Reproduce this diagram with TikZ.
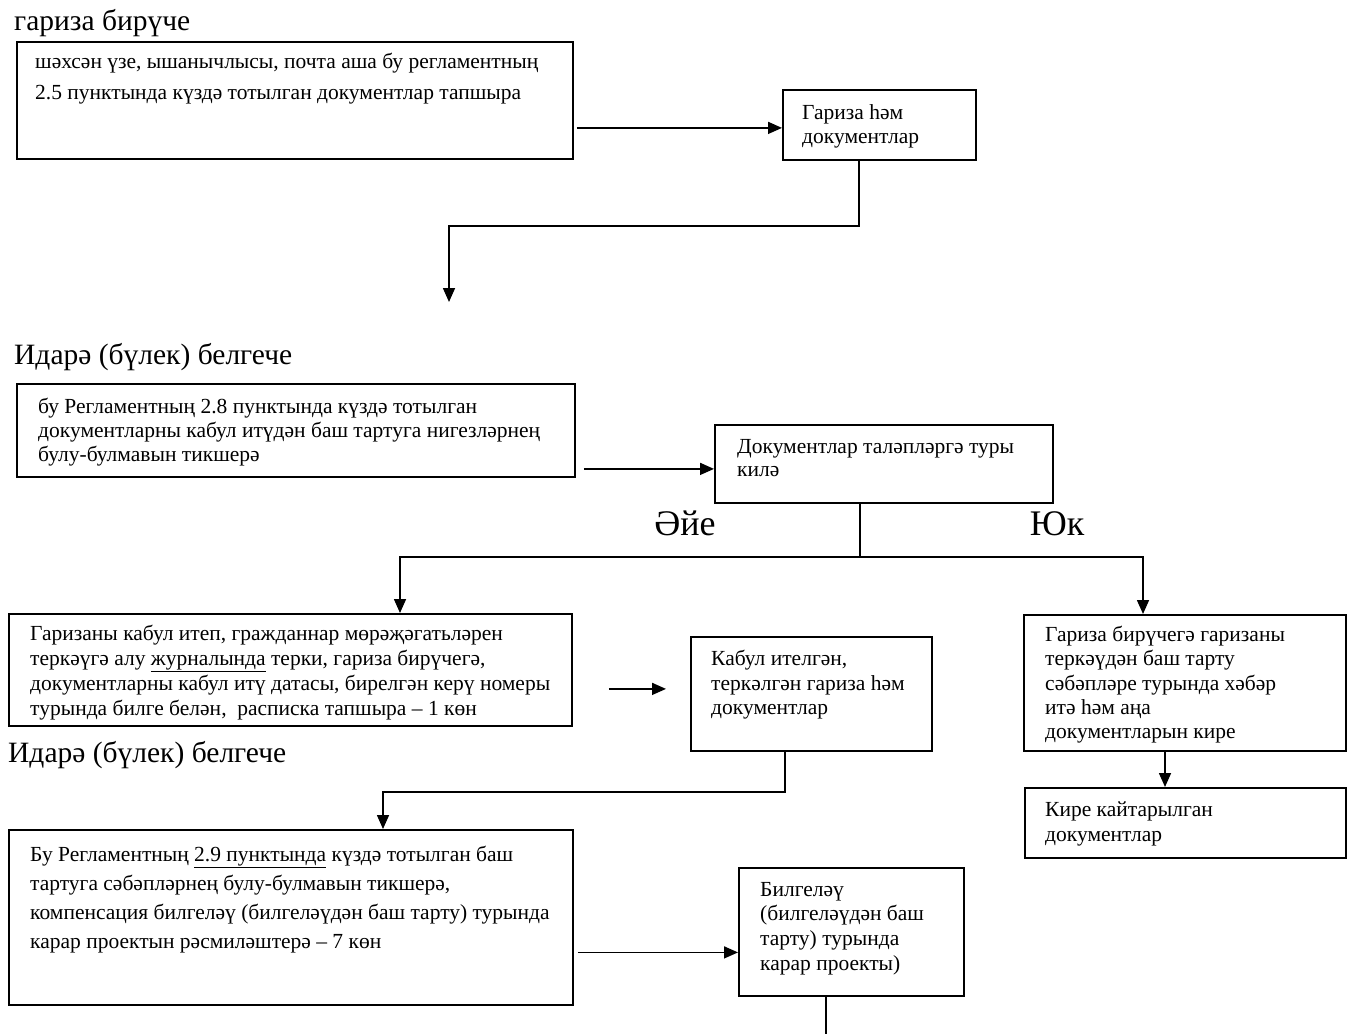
\documentclass[tikz,border=0pt]{standalone}
\usepackage{fontspec}
\setmainfont{Liberation Serif}
\usetikzlibrary{arrows.meta,calc}
\begin{document}
\begin{tikzpicture}[x=1pt,y=-1pt,
 box/.style={draw, line width=1.8pt, rectangle, inner sep=0pt, anchor=north west},
 txt/.style={anchor=north west, inner sep=0pt, align=left},
 head/.style={anchor=base west, inner sep=0pt, font=\fontsize{29.5}{33}\selectfont},
 big/.style={anchor=base, inner sep=0pt, font=\fontsize{36}{40}\selectfont},
 conn/.style={line width=1.6pt},
 arr/.style={line width=1.6pt, -{Triangle[length=14pt,width=12pt]}}]
\useasboundingbox (0,0) rectangle (1351,1034);

% boxes
\node[box, minimum width=556pt, minimum height=117pt] (b1) at (16,41) {};
\node[box, minimum width=193pt, minimum height=70pt] (b2) at (782,89) {};
\node[box, minimum width=558pt, minimum height=93pt] (b3) at (16,383) {};
\node[box, minimum width=338pt, minimum height=78pt] (b4) at (714,424) {};
\node[box, minimum width=563pt, minimum height=112pt] (b5) at (8,613) {};
\node[box, minimum width=241pt, minimum height=114pt] (b6) at (690,636) {};
\node[box, minimum width=322pt, minimum height=136pt] (b7) at (1023,614) {};
\node[box, minimum width=321pt, minimum height=70pt] (b8) at (1024,787) {};
\node[box, minimum width=564pt, minimum height=175pt] (b9) at (8,829) {};
\node[box, minimum width=225pt, minimum height=128pt] (b10) at (738,867) {};

% headings
\node[head] (h1) at (14,30) {гариза бирүче};
\node[head] (h2) at (14,364) {Идарә (бүлек) белгече};
\node[head] (h3) at (8,762) {Идарә (бүлек) белгече};
\node[big] (yes) at (685,535) {Әйе};
\node[big] (no) at (1057,535) {Юк};

% texts
\node[txt, font=\fontsize{21.5}{31}\selectfont] (t1) at (35,53)
 {шәхсән үзе, ышанычлысы, почта аша бу регламентның\\2.5 пунктында күздә тотылган документлар тапшыра};
\node[txt, font=\fontsize{21.5}{24}\selectfont] (t2) at (802,104)
 {Гариза һәм\\документлар};
\node[txt, font=\fontsize{21.5}{24}\selectfont] (t3) at (38,398)
 {бу Регламентның 2.8 пунктында күздә тотылган\\документларны кабул итүдән баш тартуга нигезләрнең\\булу-булмавын тикшерә};
\node[txt, font=\fontsize{21.5}{23.5}\selectfont] (t4) at (737,439)
 {Документлар таләпләргә туры\\килә};
\node[txt, font=\fontsize{21.5}{24.8}\selectfont] (t5) at (30,625)
 {Гаризаны кабул итеп, гражданнар мөрәҗәгатьләрен\\теркәүгә алу \underline{журналында} терки, гариза бирүчегә,\\документларны кабул итү датасы, бирелгән керү номеры\\турында билге белән,\ \ расписка тапшыра – 1 көн};
\node[txt, font=\fontsize{21.5}{24.5}\selectfont] (t6) at (711,650)
 {Кабул ителгән,\\теркәлгән гариза һәм\\документлар};
\node[txt, font=\fontsize{21.5}{24.3}\selectfont] (t7) at (1045,626)
 {Гариза бирүчегә гаризаны\\теркәүдән баш тарту\\сәбәпләре турында хәбәр\\итә һәм аңа\\документларын кире};
\node[txt, font=\fontsize{21.5}{25}\selectfont] (t8) at (1045,802)
 {Кире кайтарылган\\документлар};
\node[txt, font=\fontsize{21.5}{29}\selectfont] (t9) at (30,846)
 {Бу Регламентның \underline{2.9 пунктында} күздә тотылган баш\\тартуга сәбәпләрнең булу-булмавын тикшерә,\\компенсация билгеләү (билгеләүдән баш тарту) турында\\карар проектын рәсмиләштерә – 7 көн};
\node[txt, font=\fontsize{21.5}{24.7}\selectfont] (t10) at (760,882)
 {Билгеләү\\(билгеләүдән баш\\тарту) турында\\карар проекты)};

% connector points
\coordinate (c1) at (449,302);
\coordinate (c3) at (826,1034);

% connectors
\draw[arr] ($(b1.east)+(3,27.5)$) coordinate (p1) -- (p1 -| b2.west);
\draw[arr] ($(b2.south west)+(77,0)$) -- ++(0,65) -| (c1);
\draw[arr] ($(b3.east)+(8,38.5)$) coordinate (p3) -- (p3 -| b4.west);
\draw[conn] ($(b4.south west)+(146,0)$) coordinate (s) -- (s |- 0,557) coordinate (m);
\draw[arr] (m) -| ($(b5.north west)+(392,0)$);
\draw[arr] (m) -| ($(b7.north west)+(120,0)$);
\draw[arr] ($(b5.east)+(36,19)$) coordinate (p5) -- ($(p5 -| b6.west)+(-24,0)$) coordinate (c2);
\draw[arr] ($(b7.south west)+(142,0)$) coordinate (p7) -- (p7 |- b8.north);
\draw[arr] ($(b6.south west)+(95,0)$) -- ++(0,40) -| ($(b9.north west)+(375,0)$);
\draw[arr] ($(b9.east)+(4,35)$) coordinate (p9) -- (p9 -| b10.west);
\draw[conn] ($(b10.south west)+(88,0)$) -- (c3);
\end{tikzpicture}
\end{document}
